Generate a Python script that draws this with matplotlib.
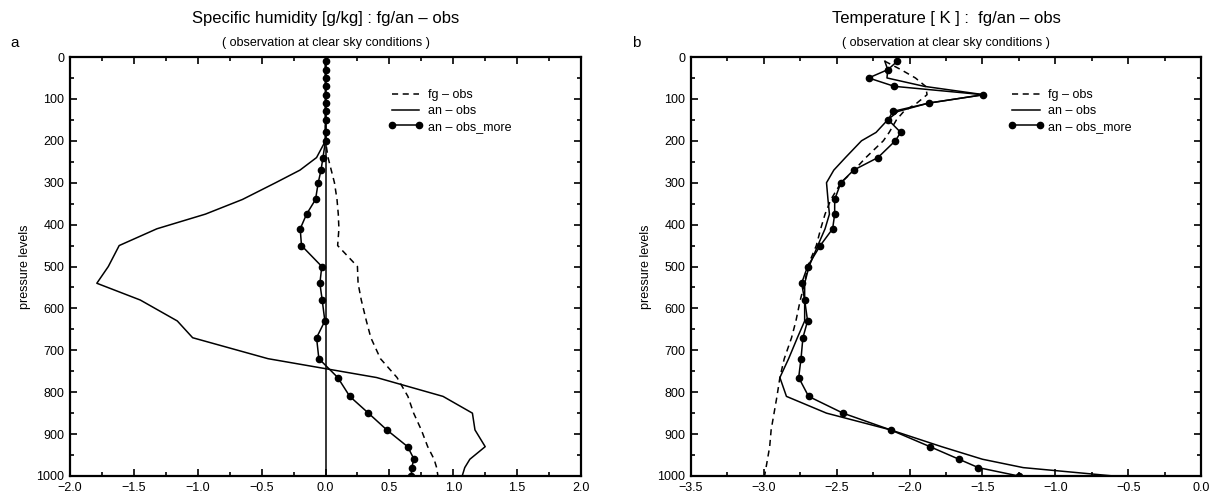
import numpy as np
import matplotlib
matplotlib.use("Agg")
import matplotlib.pyplot as plt
from matplotlib.ticker import MultipleLocator

plt.rcParams['font.family'] = ['Liberation Sans', 'DejaVu Sans']
plt.rcParams['axes.unicode_minus'] = True

# pressure levels shared by all profiles
levels = [10, 30, 50, 70, 90, 110, 130, 150, 180, 200, 240, 270, 300, 340, 375,
          410, 450, 500, 540, 580, 630, 670, 720, 765, 810, 850, 890, 930, 960, 980, 1000]

# specific humidity [g/kg]
q_fg = [0, 0, 0, 0, 0, 0, 0, 0, 0, 0, 0.02, 0.045, 0.07, 0.09, 0.10,
        0.105, 0.095, 0.25, 0.255, 0.28, 0.32, 0.355, 0.43, 0.56, 0.645, 0.69, 0.75, 0.80, 0.85, 0.87, 0.88]
q_an = [0, 0, 0, 0, 0, 0, 0, 0, 0, 0, -0.07, -0.20, -0.39, -0.65, -0.94,
        -1.32, -1.615, -1.70, -1.79, -1.45, -1.16, -1.04, -0.45, 0.40, 0.92, 1.15, 1.17, 1.25, 1.13, 1.09, 1.07]
q_more = [0, 0, 0, 0, 0, 0, 0, 0, 0, 0, -0.02, -0.035, -0.057, -0.078, -0.148,
          -0.198, -0.188, -0.029, -0.044, -0.026, -0.005, -0.07, -0.052, 0.096, 0.19, 0.336, 0.48, 0.643, 0.693, 0.674, 0.672]

# temperature [K]
t_fg = [-2.17, -2.06, -1.96, -1.89, -1.88, -1.95, -2.04, -2.09, -2.14, -2.18, -2.30, -2.38, -2.47, -2.54, -2.58,
        -2.61, -2.64, -2.70, -2.72, -2.75, -2.78, -2.81, -2.86, -2.89, -2.91, -2.93, -2.95, -2.96, -2.975, -2.985, -2.995]
t_an = [-2.17, -2.15, -2.155, -1.90, -1.49, -1.87, -2.08, -2.15, -2.23, -2.33, -2.44, -2.52, -2.57, -2.56, -2.55,
        -2.58, -2.63, -2.69, -2.72, -2.72, -2.72, -2.77, -2.83, -2.89, -2.845, -2.57, -2.13, -1.78, -1.50, -1.22, -0.60]
t_more = [-2.084, -2.148, -2.281, -2.105, -1.494, -1.867, -2.116, -2.146, -2.061, -2.098, -2.217, -2.384, -2.471, -2.514, -2.514,
          -2.528, -2.613, -2.70, -2.741, -2.72, -2.70, -2.732, -2.745, -2.761, -2.693, -2.457, -2.13, -1.86, -1.661, -1.528, -1.251]

fig = plt.figure(figsize=(12.23, 4.99), dpi=100)
ax1 = fig.add_axes([70/1223, 1-476/499, 511/1223, 419/499])
ax2 = fig.add_axes([691/1223, 1-476/499, 510/1223, 419/499])


def style(ax, xlim, title, letter):
    ax.set_ylim(1000, 0)
    ax.set_xlim(*xlim)
    ax.xaxis.set_major_locator(MultipleLocator(0.5))
    ax.xaxis.set_minor_locator(MultipleLocator(0.25))
    ax.yaxis.set_major_locator(MultipleLocator(100))
    ax.yaxis.set_minor_locator(MultipleLocator(50))
    ax.tick_params(which='both', direction='in', top=True, right=True,
                   labelsize=9, width=1.2, pad=4)
    ax.tick_params(which='major', length=5)
    ax.tick_params(which='minor', length=3)
    for s in ax.spines.values():
        s.set_linewidth(1.6)
    ax.set_ylabel('pressure levels', fontsize=9, labelpad=4)
    ax.text(0.5, 1.0 + 39/419, title, transform=ax.transAxes, ha='center', va='center', fontsize=12)
    ax.text(0.5, 1.0 + 14/419, '( observation at clear sky conditions )', transform=ax.transAxes,
            ha='center', va='center', fontsize=9)
    ax.text(-55/511, 1.0 + 14/419, letter, transform=ax.transAxes, ha='center', va='center', fontsize=11)


def profiles(ax, fg, an, more):
    ax.plot(fg, levels, color='black', lw=1.1, dashes=(4, 3), label='fg – obs')
    ax.plot(an, levels, color='black', lw=1.1, label='an – obs')
    ax.plot(more, levels, color='black', lw=1.1, marker='o', markersize=4.5, label='an – obs_more')
    ax.legend(loc='upper left', bbox_to_anchor=(0.6, 0.95), frameon=False, fontsize=9,
              handlelength=2.8, handletextpad=0.4, labelspacing=0.3, numpoints=2)


profiles(ax1, q_fg, q_an, q_more)
ax1.axvline(0, color='black', lw=1.1)
style(ax1, (-2.0, 2.0), 'Specific humidity [g/kg] : fg/an – obs', 'a')

profiles(ax2, t_fg, t_an, t_more)
style(ax2, (-3.5, 0.0), 'Temperature [ K ] :  fg/an – obs', 'b')

fig.savefig('out.png', dpi=100)
